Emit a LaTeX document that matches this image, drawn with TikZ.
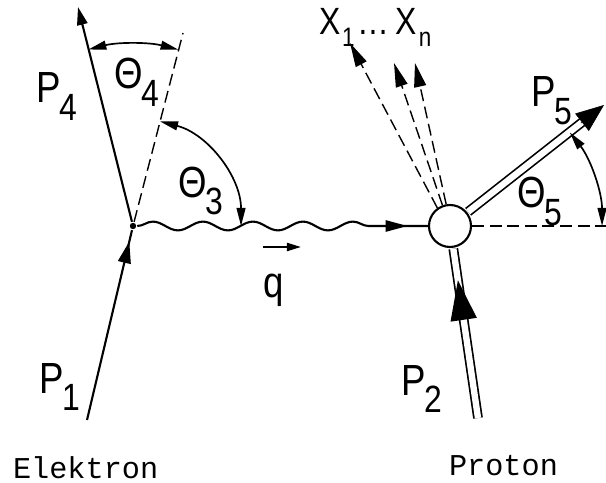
\documentclass[tikz,border=0pt]{standalone}
\usepackage{fontspec}
\setmainfont{Liberation Sans}
\newfontfamily\labfont[FakeStretch=0.84]{Liberation Sans}
\newfontfamily\typfont{Liberation Mono}
\usetikzlibrary{arrows.meta,decorations.pathmorphing,decorations.markings,calc}
\newcommand{\idx}[2]{#1\kern-0.02em\raisebox{-0.4em}{\fontsize{27}{27}\selectfont #2}}

\begin{document}
\begin{tikzpicture}[x=0.025cm,y=0.025cm,line width=1.5pt,
    lab/.style={anchor=base west,inner sep=0pt,font=\labfont\fontsize{31}{31}\selectfont},
    particle/.style={anchor=base west,inner sep=0pt,font=\typfont\fontsize{21.5}{21.5}\selectfont},
    vdot/.style={circle,fill,inner sep=0pt,minimum size=1.6mm},
    blob/.style={circle,draw,fill=white,inner sep=0pt,minimum size=10.5mm,line width=1.5pt},
    dbl/.style={double,double distance=1.6mm,line width=1.2pt},
    guide/.style={dash pattern=on 3mm off 1.4mm,line width=1pt},
    photon/.style={decorate,decoration={snake,segment length=12.5mm,amplitude=1.1mm,post length=10mm}},
    tipat/.style 2 args={postaction={decorate,decoration={markings,mark=at position #1 with {\arrow{#2}}}}},
    ang/.style={{Triangle[length=4.5mm,width=2.2mm]}-{Triangle[length=4.5mm,width=2.2mm]},line width=1.2pt}]
\useasboundingbox (0,0) rectangle (606,482);
% vertices and end points
\node[vdot] (ev) at (133,256) {};
\node[blob] (pv) at (450,256) {};
\coordinate (p1) at (87,62);
\coordinate (p4) at (78,475);
\coordinate (beam) at (183,449);
\coordinate (p2) at (478,64);
\coordinate (p5) at (604,377);
\coordinate (hz) at (606,256);
\coordinate (x1) at (350,439);
\coordinate (x2) at (394,419);
\coordinate (x3) at (415,419);
\coordinate (qa) at (263,235);
\coordinate (qb) at (301,235);
% electron
\draw[tipat={0.94}{Triangle[length=5.4mm,width=3.2mm]}] (p1) -- (ev);
\draw[-{Triangle[length=4.5mm,width=2.6mm]}] (ev) -- (p4);
\draw[guide] (ev) -- (beam);
\draw[ang] ([shift={(75.5:4.55cm)}]ev.center) arc[start angle=75.5,end angle=104.2,radius=4.55cm];
\draw[ang] ([shift={(0:2.7cm)}]ev.center) arc[start angle=0,end angle=75.5,radius=2.7cm];
% photon
\draw[photon] (ev) -- (pv);
\path[tipat={0.93}{Triangle[length=5.5mm,width=2.8mm]}] (ev) -- (pv);
% proton
\draw[dbl,shorten >=0.7pt] (p2) -- (pv);
\path[tipat={0.81}{Triangle[length=10mm,width=6.5mm]}] (p2) -- (pv);
\draw[dbl,shorten <=0.7pt] (pv) -- ($(pv)!0.9!(p5)$);
\draw[-{Triangle[length=7mm,width=5.5mm]},line width=0.4pt] ($(pv)!0.85!(p5)$) -- (p5);
\draw[guide] (pv) -- (hz);
\draw[ang] ([shift={(0:3.8cm)}]pv.center) arc[start angle=0,end angle=38,radius=3.8cm];
% hadrons
\draw[guide,-{Triangle[length=6mm,width=3mm]}] (pv.125) -- (x1);
\draw[guide,-{Triangle[length=6mm,width=3mm]}] (pv.110) -- (x2);
\draw[guide,-{Triangle[length=6mm,width=3mm]}] (pv.100) -- (x3);
% labels
\node[lab] (l4) at (35,379) {\idx{P}{4}};
\node[lab] (t4) at (113,393) {\idx{Θ}{4}};
\node[lab] (t3) at (177,285) {\idx{Θ}{3}};
\node[lab,font=\labfont\fontsize{27}{27}\selectfont] (xs) at (318,447) {X\kern0.05em\raisebox{-0.3em}{\fontsize{19}{19}\selectfont 1}\kern2pt\ldots\,X\kern0.05em\raisebox{-0.3em}{\fontsize{19}{19}\selectfont n}};
\node[lab] (l5) at (530,375) {\idx{P}{5}};
\node[lab] (t5) at (516,274) {\idx{Θ}{5}};
\node[lab] (ql) at (262,185) {q};
\draw[-{Triangle[length=3.5mm,width=2mm]}] (qa) -- (qb);
\node[lab] (l1) at (38,89) {\idx{P}{1}};
\node[lab] (l2) at (400,87) {\idx{P}{2}};
\node[particle] (el) at (12,4) {Elektron};
\node[particle] (pr) at (448,7) {Proton};
\end{tikzpicture}
\end{document}
